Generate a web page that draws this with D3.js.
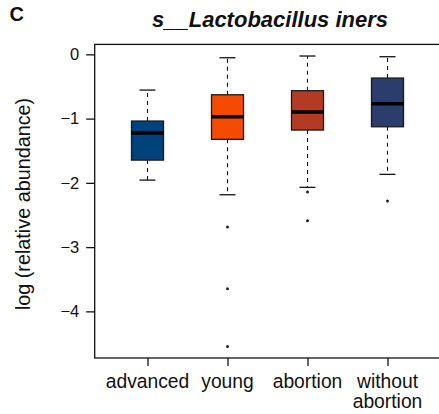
<!DOCTYPE html>
<html>
<head>
<meta charset="utf-8">
<script src="https://cdn.jsdelivr.net/npm/d3@7"></script>
<style>
  html, body { margin: 0; padding: 0; background: #fff; }
  svg { display: block; font-family: "Liberation Sans", Arial, Helvetica, sans-serif; }
</style>
</head>
<body>
<svg id="chart" width="439" height="414"></svg>
<script>
const categories = ["advanced", "young", "abortion", "without\nabortion"];
const lowerWhisker = [-1.957, -2.185, -2.070, -1.868];
const q1Values     = [-1.646, -1.323, -1.178, -1.127];
const medians      = [-1.225, -0.971, -0.898, -0.769];
const q3Values     = [-1.038, -0.629, -0.566, -0.369];
const upperWhisker = [-0.556, -0.053, -0.026, -0.037];
const outliers     = [[], [-2.688, -3.648, -4.545], [-2.143, -2.590], [-2.283]];
const colors       = ["#00437c", "#f44b00", "#b33b23", "#2b3d6b"];
const yTicks       = [0, -1, -2, -3, -4];
const titleText    = "s__Lactobacillus iners";
const panelLabel   = "C";
const yLabel       = "log (relative abundance)";

const svg = d3.select("#chart");
const plotLeft = 94.7, plotTop = 44.4, plotBottom = 358;

// R-style axis limits: 4% padding around data range
const allVals = [].concat(lowerWhisker, upperWhisker, ...outliers);
const dMin = d3.min(allVals), dMax = d3.max(allVals);
const pad = (dMax - dMin) * 0.04;
const y = d3.scaleLinear().domain([dMin - pad, dMax + pad]).range([plotBottom, plotTop]);

const n = categories.length;
const xPad = n * 0.04;
const x = d3.scaleLinear().domain([0.5 - xPad, n + 0.5 + xPad]).range([plotLeft, plotLeft + (n + 2 * xPad) * 80]);
const boxW = x(1.4) - x(1.0);   // boxwex 0.8
const capW = boxW / 2;          // staplewex 0.5

// frame (right side runs off canvas as in reference)
svg.append("rect")
  .attr("x", plotLeft).attr("y", plotTop)
  .attr("width", x.range()[1] - plotLeft).attr("height", plotBottom - plotTop)
  .attr("fill", "none").attr("stroke", "#111").attr("stroke-width", 1.3);

const groups = svg.append("g").selectAll("g").data(categories).join("g");

groups.each(function(d, i) {
  const g = d3.select(this);
  const cx = x(i + 1);
  // whiskers
  g.append("line").attr("x1", cx).attr("x2", cx)
    .attr("y1", y(q3Values[i])).attr("y2", y(upperWhisker[i]))
    .attr("stroke", "#111").attr("stroke-width", 1.1).attr("stroke-dasharray", "4,4");
  g.append("line").attr("x1", cx).attr("x2", cx)
    .attr("y1", y(q1Values[i])).attr("y2", y(lowerWhisker[i]))
    .attr("stroke", "#111").attr("stroke-width", 1.1).attr("stroke-dasharray", "4,4");
  // caps
  [upperWhisker[i], lowerWhisker[i]].forEach(v => {
    g.append("line").attr("x1", cx - capW / 2).attr("x2", cx + capW / 2)
      .attr("y1", y(v)).attr("y2", y(v))
      .attr("stroke", "#111").attr("stroke-width", 1.3);
  });
  // box
  g.append("rect")
    .attr("x", cx - boxW / 2).attr("width", boxW)
    .attr("y", y(q3Values[i])).attr("height", y(q1Values[i]) - y(q3Values[i]))
    .attr("fill", colors[i]).attr("stroke", "#1a1a1a").attr("stroke-width", 1.3);
  // median
  g.append("line").attr("x1", cx - boxW / 2).attr("x2", cx + boxW / 2)
    .attr("y1", y(medians[i])).attr("y2", y(medians[i]))
    .attr("stroke", "#000").attr("stroke-width", 3.6);
  // outliers
  g.selectAll("circle").data(outliers[i]).join("circle")
    .attr("cx", cx).attr("cy", v => y(v)).attr("r", 1.5).attr("fill", "#222");
});

// y axis
const yAxis = svg.append("g").attr("transform", `translate(${plotLeft},0)`)
  .call(d3.axisLeft(y).tickValues(yTicks).tickFormat(d3.format("d")).tickSize(8.5).tickPadding(7));
yAxis.select(".domain").remove();
yAxis.selectAll(".tick line").attr("stroke", "#111").attr("stroke-width", 1.3);
yAxis.selectAll(".tick text").attr("font-size", 16.5).attr("fill", "#111")
  .attr("font-family", "'Liberation Sans', Arial, sans-serif");

// x axis
const xAxis = svg.append("g").attr("transform", `translate(0,${plotBottom})`)
  .call(d3.axisBottom(x).tickValues(d3.range(1, n + 1)).tickSize(8).tickFormat(""));
xAxis.select(".domain").remove();
xAxis.selectAll(".tick line").attr("stroke", "#111").attr("stroke-width", 1.3);

const xl = svg.append("g").selectAll("text").data(categories).join("text")
  .attr("text-anchor", "middle")
  .attr("font-size", 19.3).attr("fill", "#111")
  .attr("transform", (d, i) => `translate(${x(i + 1)},${plotBottom + 29.5})`);
xl.each(function(d) {
  const t = d3.select(this);
  d.split("\n").forEach((line, k) => {
    t.append("tspan").attr("x", 0).attr("dy", k === 0 ? 0 : 20).text(line);
  });
});

// y label
svg.append("text")
  .attr("transform", `translate(30,${(98 + 310) / 2}) rotate(-90)`)
  .attr("text-anchor", "middle").attr("font-size", 19.8).attr("fill", "#111")
  .text(yLabel);

// title
svg.append("text")
  .attr("x", 270).attr("y", 27)
  .attr("text-anchor", "middle").attr("font-size", 22)
  .attr("font-weight", "bold").attr("font-style", "italic").attr("fill", "#111")
  .text(titleText);

// panel label
svg.append("text")
  .attr("x", 9.5).attr("y", 20.5)
  .attr("font-size", 20).attr("font-weight", "bold").attr("fill", "#111")
  .text(panelLabel);
</script>
</body>
</html>
